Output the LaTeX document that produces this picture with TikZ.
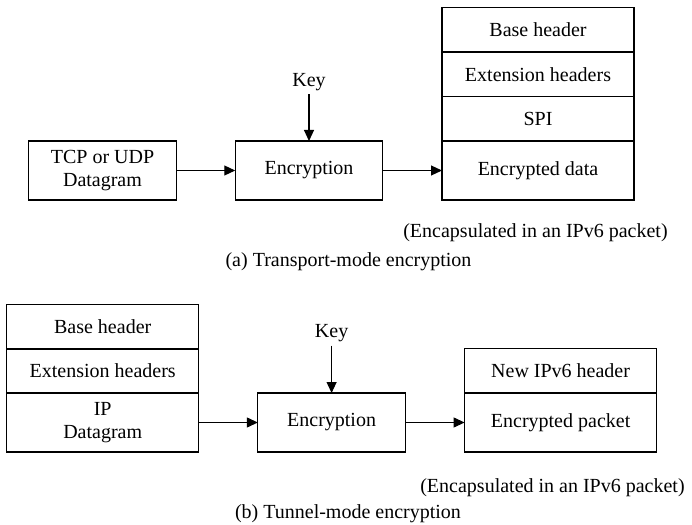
\documentclass[tikz,border=0pt]{standalone}
\usepackage{fontspec}
\setmainfont{Liberation Serif}
\usetikzlibrary{arrows.meta}

\begin{document}
\begin{tikzpicture}[
  x=1bp, y=-1bp,
  box/.style={rectangle, draw, line width=1.1bp, minimum width=147.5bp, minimum height=59bp, align=center, inner sep=0pt, outer sep=0pt},
  field/.style={rectangle, draw, line width=1.1bp, minimum width=192bp, minimum height=44.5bp, align=center, inner sep=0pt, outer sep=0pt},
  arr/.style={-{Triangle[length=11bp, width=10bp]}, line width=1.1bp},
  every node/.append style={font=\fontsize{20bp}{23bp}\selectfont}
]
  \useasboundingbox (0,0) rectangle (692,525);

  % (a) transport mode
  \node[box] (tcp)  at (102.5,170.5) {TCP or UDP\\Datagram};
  \node[box] (encA) at (309,170.5) {Encryption};
  \node      (keyA) at (309,82) {Key};
  \node[field] (baseA) at (538,29.8) {Base header};
  \node[field] (extA)  at (538,74.5) {Extension headers};
  \node[field] (spiA)  at (538,119) {SPI};
  \node[field, minimum height=59bp] (dataA) at (538,170.5) {Encrypted data};

  \draw[arr] (keyA) -- (encA);
  \draw[arr] (tcp)  -- (encA);
  \draw[arr] (encA) -- (dataA);

  \node (encapA) at (535.5,233) {(Encapsulated in an IPv6 packet)};
  \node (capA)   at (348.5,262) {(a) Transport-mode encryption};

  % (b) tunnel mode
  \node[field] (baseB) at (102.7,326.7) {Base header};
  \node[field] (extB)  at (102.7,371) {Extension headers};
  \node[field, minimum height=59bp] (ipB) at (102.7,422.5) {IP\\Datagram};
  \node[box] (encB) at (331.6,422.5) {Encryption};
  \node      (keyB) at (331.6,333.5) {Key};
  \node[field] (newB) at (560.6,371) {New IPv6 header};
  \node[field, minimum height=59bp] (pktB) at (560.6,422.5) {Encrypted packet};

  \draw[arr] (keyB) -- (encB);
  \draw[arr] (ipB)  -- (encB);
  \draw[arr] (encB) -- (pktB);

  \node (encapB) at (552.5,488) {(Encapsulated in an IPv6 packet)};
  \node (capB)   at (348,513.5) {(b) Tunnel-mode encryption};
\end{tikzpicture}
\end{document}
